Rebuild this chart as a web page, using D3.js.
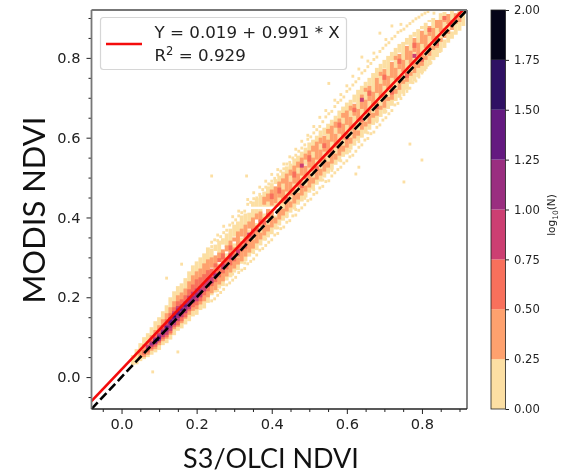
<!DOCTYPE html>
<html><head><meta charset="utf-8">
<script src="https://cdn.jsdelivr.net/npm/d3@7/dist/d3.min.js"></script>
<style>html,body{margin:0;padding:0;background:#fff}svg{display:block;filter:blur(0.4px)}</style>
</head><body><svg id="c" width="568" height="474"></svg>
<script>
const xTicks=[0,0.2,0.4,0.6,0.8];
const yTicks=[0,0.2,0.4,0.6,0.8];
const minorTicks=[-0.05,0.05,0.1,0.15,0.25,0.3,0.35,0.45,0.5,0.55,0.65,0.7,0.75,0.85,0.9];
const cbTicks=[0,0.25,0.5,0.75,1,1.25,1.5,1.75,2];
const cbColors=["#fcdfa3","#fea16e","#f8705c","#cc3f72","#9a2e80","#641a80","#2f1163","#050418"];
const fitIntercept=0.019, fitSlope=0.991;
const fitEnds=[-0.08,0.92];
const identityEnds=[-0.08,0.92];
const legendLines=["Y = 0.019 + 0.991 * X","R","2"," = 0.929"];

// cloud: [x, yLow, yHigh] per colour level
const pale=[[.03,.03,.055],[.04,.032,.07],[.05,.04,.085],[.06,.045,.1],[.07,.05,.11],[.08,.056,.125],[.09,.062,.14],[.10,.068,.15],[.11,.08,.165],[.12,.085,.18],[.13,.094,.2],[.14,.105,.215],[.15,.116,.228],[.16,.122,.235],[.17,.132,.248],[.18,.14,.265],[.19,.152,.28],[.2,.156,.29],[.21,.168,.3],[.22,.172,.31],[.23,.186,.325],
[.24,.205,.27],[.24,.284,.322],[.25,.212,.3],[.25,.316,.332],[.26,.222,.285],[.26,.3,.342],[.27,.228,.318],[.27,.332,.348],[.28,.242,.31],[.28,.326,.36],[.29,.25,.295],[.29,.312,.372],[.30,.262,.335],[.30,.352,.382],[.31,.268,.322],[.31,.338,.39],[.32,.284,.35],[.32,.366,.405],[.33,.29,.338],[.33,.354,.41],[.34,.302,.37],[.34,.386,.412],[.35,.31,.355],[.35,.37,.421],[.35,.427,.44],[.36,.318,.386],[.36,.4,.421],[.36,.427,.448],[.37,.33,.372],[.37,.386,.421],[.37,.427,.456],[.38,.342,.41],[.38,.427,.465],[.39,.35,.395],[.39,.409,.421],[.39,.427,.478],[.40,.358,.421],[.40,.427,.486],[.41,.37,.405],[.41,.418,.421],[.41,.427,.47],[.41,.484,.496],[.42,.38,.421],[.42,.427,.505],
[.43,.392,.45],[.43,.466,.515],[.44,.4,.428],[.44,.444,.49],[.44,.504,.528],[.45,.412,.475],[.45,.49,.535],[.46,.42,.448],[.46,.464,.505],[.46,.52,.548],[.47,.432,.49],[.47,.506,.555],[.48,.44,.466],[.48,.482,.53],[.48,.544,.565],[.49,.45,.515],[.49,.532,.575],[.50,.462,.484],[.50,.5,.55],[.50,.566,.588],[.51,.47,.53],[.51,.546,.595],[.52,.482,.504],[.52,.52,.568],[.52,.584,.605],[.53,.49,.55],[.53,.566,.618],[.54,.5,.524],[.54,.54,.59],[.54,.606,.625],[.55,.51,.572],[.55,.588,.635],[.56,.52,.544],[.56,.56,.61],[.56,.626,.645],[.57,.532,.595],[.57,.61,.655],[.58,.54,.566],[.58,.582,.63],[.58,.646,.668],[.59,.552,.615],[.59,.632,.678],
[.60,.558,.586],[.60,.602,.65],[.60,.666,.688],[.61,.57,.635],[.61,.652,.695],[.62,.58,.606],[.62,.622,.672],[.62,.688,.708],[.63,.592,.655],[.63,.672,.72],[.64,.6,.628],[.64,.644,.69],[.64,.706,.73],[.65,.61,.675],[.65,.692,.74],[.66,.62,.648],[.66,.664,.715],[.66,.73,.75],[.67,.632,.695],[.67,.712,.762],[.68,.64,.668],[.68,.684,.735],[.68,.75,.775],[.69,.652,.715],[.69,.732,.785],[.70,.66,.686],[.70,.702,.755],[.70,.773,.795],[.71,.672,.735],[.71,.752,.805],[.72,.68,.706],[.72,.724,.775],[.72,.793,.815],[.73,.692,.755],[.73,.772,.825],[.74,.7,.726],[.74,.744,.795],[.74,.813,.835],[.75,.71,.775],[.75,.792,.84],[.76,.72,.746],[.76,.764,.815],[.76,.833,.85],[.77,.735,.795],[.77,.812,.858],[.78,.742,.766],[.78,.782,.835],[.78,.853,.865],[.79,.752,.815],[.79,.832,.872],
[.80,.762,.786],[.80,.802,.855],[.80,.872,.88],[.81,.772,.835],[.81,.852,.888],[.82,.782,.806],[.82,.822,.875],[.82,.89,.895],[.83,.795,.855],[.83,.872,.9],[.84,.802,.826],[.84,.842,.895],[.85,.815,.875],[.85,.892,.912],[.86,.825,.846],[.86,.862,.915],[.87,.838,.895],[.88,.848,.866],[.88,.882,.918],[.89,.858,.905],[.90,.868,.918],[.91,.88,.918]];
const orange=[[.05,.048,.068],[.06,.05,.082],[.07,.056,.09],[.08,.066,.105],[.09,.07,.118],[.10,.08,.13],[.11,.09,.145],[.12,.096,.16],[.13,.106,.175],[.14,.12,.19],[.15,.126,.205],[.16,.135,.212],[.17,.146,.222],[.18,.156,.24],[.19,.166,.255],[.20,.17,.265],[.21,.182,.272],[.22,.19,.285],[.23,.2,.295],
[.24,.21,.262],[.24,.274,.3],[.25,.218,.25],[.25,.262,.305],[.26,.232,.282],[.26,.295,.312],[.27,.24,.268],[.27,.278,.32],[.28,.252,.3],[.28,.315,.33],[.29,.262,.285],[.29,.3,.342],[.30,.272,.325],[.30,.34,.35],[.31,.282,.3],[.31,.312,.365],[.32,.29,.34],[.32,.352,.372],[.33,.302,.325],[.33,.338,.382],[.34,.312,.36],[.34,.372,.39],[.35,.322,.345],[.35,.36,.4],[.36,.335,.38],[.36,.395,.41],[.37,.345,.362],[.37,.375,.415],[.38,.355,.4],[.38,.432,.452],[.39,.365,.382],[.39,.396,.421],[.39,.44,.46],[.40,.375,.415],[.40,.43,.47],[.41,.385,.4],[.41,.436,.478],[.42,.395,.421],[.42,.45,.49],[.43,.405,.422],[.43,.436,.47],[.43,.485,.498],[.44,.415,.45],[.44,.465,.51],[.45,.425,.44],[.45,.455,.49],[.45,.505,.52],[.46,.435,.47],[.46,.485,.53],[.47,.445,.462],[.47,.476,.51],[.47,.525,.54],[.48,.455,.49],[.48,.505,.55],[.49,.465,.48],[.49,.496,.53],[.49,.545,.56],[.50,.475,.51],[.50,.525,.568],[.51,.485,.5],[.51,.515,.55],[.51,.565,.58],[.52,.495,.53],[.52,.545,.59],[.53,.505,.522],[.53,.536,.57],[.53,.585,.6],[.54,.515,.55],[.54,.565,.605],[.55,.525,.54],[.55,.555,.595],[.55,.61,.622],[.56,.535,.575],[.56,.59,.63],[.57,.545,.56],[.57,.575,.61],[.57,.625,.64],[.58,.555,.595],[.58,.61,.648],[.59,.565,.58],[.59,.595,.635],[.59,.65,.662],
[.60,.575,.612],[.60,.632,.668],[.61,.585,.6],[.61,.618,.652],[.61,.668,.68],[.62,.598,.635],[.62,.655,.685],[.63,.605,.618],[.63,.64,.672],[.64,.62,.65],[.64,.672,.708],[.65,.628,.64],[.65,.66,.695],[.65,.715,.725],[.66,.635,.67],[.66,.692,.73],[.67,.65,.662],[.67,.68,.715],[.68,.655,.69],[.68,.712,.75],[.69,.67,.68],[.69,.7,.735],[.69,.755,.765],[.70,.675,.71],[.70,.73,.772],[.71,.692,.702],[.71,.722,.755],[.72,.695,.73],[.72,.75,.79],[.73,.71,.722],[.73,.745,.775],[.73,.795,.805],[.74,.72,.752],[.74,.772,.81],[.75,.735,.745],[.75,.765,.795],[.76,.74,.772],[.76,.795,.83],[.77,.755,.765],[.77,.785,.818],[.78,.762,.795],[.78,.815,.85],[.79,.775,.788],[.79,.805,.838],[.80,.78,.81],[.80,.835,.868],[.81,.795,.805],[.81,.825,.858],[.82,.805,.835],[.82,.855,.88],[.83,.82,.83],[.83,.845,.875],[.84,.825,.855],[.84,.875,.895],[.85,.84,.85],[.85,.865,.895],[.86,.85,.875],[.86,.89,.905],[.87,.86,.87],[.87,.885,.91],[.88,.87,.895],[.89,.885,.912],[.90,.89,.915]];
const coral=[[.06,.056,.068],[.07,.062,.082],[.08,.07,.094],[.09,.076,.105],[.10,.086,.118],[.11,.095,.13],[.12,.1,.145],[.13,.11,.16],[.14,.125,.175],[.15,.13,.19],[.16,.14,.195],[.17,.15,.205],[.18,.165,.22],[.19,.175,.232],[.20,.18,.245],[.21,.19,.25],[.22,.205,.258],[.23,.215,.268],[.24,.228,.248],[.24,.255,.272],[.25,.238,.262],[.25,.275,.285],[.26,.25,.272],[.26,.288,.298],[.27,.26,.278],[.27,.295,.31],[.28,.27,.296],[.29,.28,.3],[.29,.318,.33],[.30,.29,.31],[.31,.302,.326],[.32,.315,.33],[.33,.322,.345],[.34,.34,.352],[.35,.35,.372],[.36,.365,.375],[.37,.385,.395],[.38,.382,.392],[.39,.402,.412],[.40,.446,.46],[.42,.46,.475],[.44,.44,.452],[.46,.5,.515],[.48,.474,.486],[.50,.54,.556],[.52,.518,.528],[.54,.574,.586],[.56,.56,.57],[.58,.625,.638],[.60,.595,.605],[.62,.664,.675],[.64,.64,.65],[.66,.705,.718],[.68,.672,.682],[.70,.745,.758],[.72,.708,.72],[.74,.785,.798],[.76,.75,.762],[.78,.825,.838],[.80,.79,.8],[.82,.865,.875],[.84,.83,.84],[.86,.895,.905],[.88,.878,.888]];
const rose=[[.07,.07,.08],[.08,.076,.09],[.09,.082,.1],[.10,.09,.11],[.11,.1,.122],[.12,.106,.135],[.13,.116,.15],[.14,.13,.165],[.15,.14,.178],[.16,.15,.182],[.17,.16,.19],[.18,.17,.204],[.19,.185,.214],[.20,.19,.222],[.21,.2,.228],[.22,.215,.236],[.23,.226,.248],[.24,.235,.252],[.25,.248,.262],[.27,.27,.285],[.29,.295,.31],[.31,.31,.32],[.34,.352,.362],[.48,.525,.535],[.64,.69,.7],[.78,.8,.81]];
const magenta=[[.08,.08,.086],[.09,.084,.097],[.10,.093,.106],[.11,.106,.118],[.12,.114,.13],[.13,.124,.146],[.14,.136,.16],[.15,.148,.172],[.16,.158,.176],[.17,.168,.186],[.18,.18,.196],[.19,.19,.204],[.20,.198,.212],[.21,.212,.22],[.25,.252,.258]];
const violet=[[.09,.087,.094],[.10,.096,.102],[.11,.11,.114],[.12,.122,.128],[.13,.134,.144],[.14,.146,.156],[.15,.156,.166],[.16,.166,.172],[.17,.176,.182]];
const indigo=[[.095,.09,.096],[.14,.15,.154]];
const cloudLevels=[pale,orange,coral,rose,magenta,violet,indigo];

// stray cells outside the cloud: [x, y, y ...] in thousandths
const strayCols=[
[83,13],[150,63],[120,248],[160,283],[240,504],[333,504],
[240,191,327,338],[248,196,344],[256,205,217,342,356],[264,212,352],[272,220,362,378],[280,231,368],[288,236,381],[296,243,258,386,402],[304,250,394],[312,262,404,416],[320,268,412],[328,272,286,416],[336,284,433,445],[344,290,438],[352,296,312,447,462],[360,306,449],[368,318,458,476],[376,322,470],[384,330,346,476,491],[392,338,484],[400,344,491,508],[408,356,498],[416,360,374,507,520],[424,372,516],[432,376,522,534],[440,388,402,534],[448,392,538,552],[456,404,549],[464,406,420,556,571],[472,418,566],[480,424,574,591],[488,432,448,582],[496,442,596,606],[504,446,602],[512,458,470,612,628],[520,462,620],[528,474,628,651],[536,478,494,640],[544,490,652,668],[552,492,660,736],[560,504,518,666],[568,512,678,694],[576,520,688],[584,526,542,694,708],[592,536,702],[600,542,716,730],[608,552,566,722],[616,556,732,754],[624,509,566,740],[632,526,576,590,748,772],[640,582,762,802],[648,594,768],[656,598,612,778,792],[664,610,786],[672,614,796,812],[680,626,640,802],[688,632,816,862],[696,644,824],[704,650,666,832,846],[712,660,838],[720,668,848,880],[728,682,696,854],[736,686,864],[744,698,868,884],[752,489,708,722,872],[760,716,880],[768,584,724,886],[776,738,752,892],[784,742,898],[792,752,902],[800,544,762,776,908],[808,770,912],[816,782,916],[824,788,800],[832,798,912],[840,808,822],[848,816]
];

const plot={l:91.5,r:467,t:10,b:409};
const x=d3.scaleLinear().domain([-0.08,0.92]).range([plot.l,plot.r]);
const y=d3.scaleLinear().domain([-0.08,0.92]).range([plot.b,plot.t]);
const cb=d3.scaleLinear().domain([0,2]).range([409,10]);
const svg=d3.select("#c");
const tickFont="'DejaVu Sans'";

svg.append("defs").append("clipPath").attr("id","pc").append("rect")
 .attr("x",plot.l).attr("y",plot.t).attr("width",plot.r-plot.l).attr("height",plot.b-plot.t);
const marks=svg.append("g").attr("clip-path","url(#pc)");
const halfW=0.0052, cellHalf=0.0037;
const strayCells=strayCols.flatMap(c=>c.slice(1).map(v=>[c[0]/1000,v/1000]));
marks.append("g").selectAll("rect").data(strayCells).join("rect")
 .attr("x",d=>x(d[0]-cellHalf)).attr("width",d=>x(d[0]+cellHalf)-x(d[0]-cellHalf))
 .attr("y",d=>y(d[1]+cellHalf)).attr("height",d=>y(d[1]-cellHalf)-y(d[1]+cellHalf))
 .attr("fill",cbColors[0]);
cloudLevels.forEach((lv,i)=>{
  marks.append("g").selectAll("rect").data(lv).join("rect")
   .attr("x",d=>x(d[0]-halfW)).attr("width",d=>x(d[0]+halfW)-x(d[0]-halfW))
   .attr("y",d=>y(d[2])).attr("height",d=>y(d[1])-y(d[2]))
   .attr("fill",cbColors[i]);
});
const ln=d3.line().x(d=>x(d[0])).y(d=>y(d[1]));
marks.append("path").attr("d",ln(fitEnds.map(v=>[v,fitIntercept+fitSlope*v])))
 .attr("fill","none").attr("stroke","#f40c0c").attr("stroke-width",2.6);
marks.append("path").attr("d",ln(identityEnds.map(v=>[v,v])))
 .attr("fill","none").attr("stroke","#000").attr("stroke-width",2.6).attr("stroke-dasharray","9,3.8");

function style(g,size){
  g.select(".domain").remove();
  g.selectAll("text").attr("font-family",tickFont).attr("font-size",size).attr("fill","#222");
  g.selectAll("line").attr("stroke","#222");
}
const ax=svg.append("g").attr("transform",`translate(0,${plot.b})`)
 .call(d3.axisBottom(x).tickValues(xTicks).tickFormat(d3.format(".1f")).tickSize(5).tickPadding(5));
style(ax,14.6);
const ay=svg.append("g").attr("transform",`translate(${plot.l},0)`)
 .call(d3.axisLeft(y).tickValues(yTicks).tickFormat(d3.format(".1f")).tickSize(5).tickPadding(6));
style(ay,14.6);
const axm=svg.append("g").attr("transform",`translate(0,${plot.b})`)
 .call(d3.axisBottom(x).tickValues(minorTicks).tickFormat("").tickSize(3));
style(axm,10);
const aym=svg.append("g").attr("transform",`translate(${plot.l},0)`)
 .call(d3.axisLeft(y).tickValues(minorTicks).tickFormat("").tickSize(3));
style(aym,10);

svg.append("line").attr("x1",plot.l).attr("x2",plot.l).attr("y1",plot.t).attr("y2",plot.b).attr("stroke","#777").attr("stroke-width",1.8);
svg.append("line").attr("x1",plot.r).attr("x2",plot.r).attr("y1",plot.t).attr("y2",plot.b).attr("stroke","#777").attr("stroke-width",1.8);
svg.append("line").attr("x1",plot.l).attr("x2",plot.r).attr("y1",plot.t).attr("y2",plot.t).attr("stroke","#777").attr("stroke-width",1.8);
svg.append("line").attr("x1",plot.l).attr("x2",plot.r).attr("y1",plot.b).attr("y2",plot.b).attr("stroke","#222").attr("stroke-width",1.4);

svg.append("rect").attr("x",100.5).attr("y",17.5).attr("width",246).attr("height",52).attr("rx",3)
 .attr("fill","#fff").attr("fill-opacity",0.9).attr("stroke","#d6d6d6").attr("stroke-width",1.2);
svg.append("line").attr("x1",106).attr("x2",142).attr("y1",44).attr("y2",44).attr("stroke","#f40c0c").attr("stroke-width",2.4);
svg.append("text").attr("x",154.5).attr("y",37.5).attr("font-family",tickFont).attr("font-size",16.7).attr("fill","#222").text(legendLines[0]);
const r2=svg.append("text").attr("x",154.5).attr("y",61).attr("font-family",tickFont).attr("font-size",16.7).attr("fill","#222");
r2.append("tspan").text(legendLines[1]);
r2.append("tspan").attr("dy",-6).attr("font-size",11.5).text(legendLines[2]);
r2.append("tspan").attr("dy",6).text(legendLines[3]);

svg.append("text").attr("x",271).attr("y",468).attr("text-anchor","middle").attr("font-family","Lato").attr("font-size",27).attr("fill","#111").text("S3/OLCI NDVI");
svg.append("text").attr("transform","translate(45,210) rotate(-90)").attr("text-anchor","middle").attr("font-family","Lato").attr("font-size",31).attr("fill","#111").text("MODIS NDVI");

const bins=cbColors.map((c,i)=>({c,lo:cbTicks[i],hi:cbTicks[i+1]}));
svg.append("g").selectAll("rect").data(bins).join("rect")
 .attr("x",491).attr("width",14.5).attr("y",d=>cb(d.hi)).attr("height",d=>cb(d.lo)-cb(d.hi)).attr("fill",d=>d.c);
svg.append("rect").attr("x",491).attr("y",10).attr("width",14.5).attr("height",399).attr("fill","none").attr("stroke","#222").attr("stroke-width",0.8);
const acb=svg.append("g").attr("transform","translate(505.5,0)")
 .call(d3.axisRight(cb).tickValues(cbTicks).tickFormat(d3.format(".2f")).tickSize(3.5).tickPadding(5));
style(acb,11.6);
svg.append("text").attr("transform","translate(555,215) rotate(-90)").attr("text-anchor","middle").attr("font-family",tickFont).attr("font-size",10.5).attr("fill","#222")
 .call(t=>{t.append("tspan").text("log");t.append("tspan").attr("dy",2.5).attr("font-size",7.5).text("10");t.append("tspan").attr("dy",-2.5).text("(N)");});
</script></body></html>
